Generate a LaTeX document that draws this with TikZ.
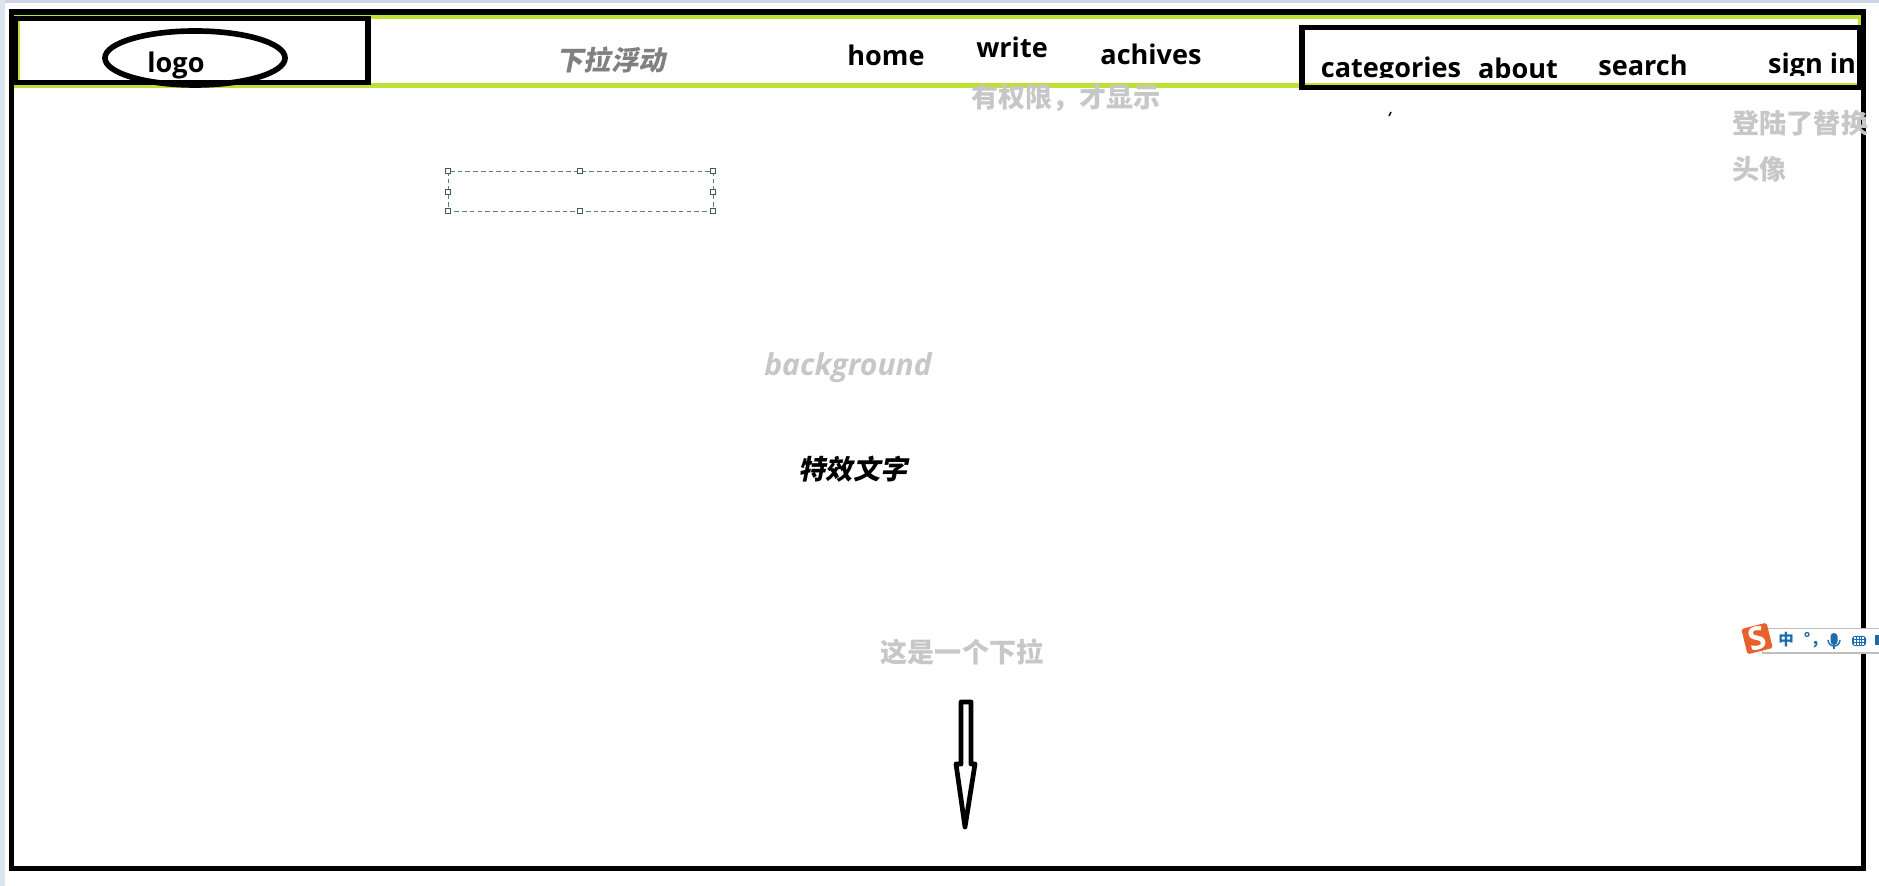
\documentclass[tikz,border=0pt]{standalone}
\usepackage{fontspec}
\setmainfont{Open Sans}
\newfontfamily\cjk{Noto Sans CJK SC}
\newfontfamily\cjkslant[FakeSlant=0.2]{Noto Sans CJK SC}
\usetikzlibrary{shapes.geometric}
\definecolor{barGreen}{HTML}{BDE034}
\definecolor{imeBlue}{HTML}{1A6BB0}
\definecolor{imeOrange}{HTML}{E8602C}
\definecolor{selGray}{HTML}{5F7F7F}
\definecolor{edgeTop}{HTML}{CDD5E5}
\definecolor{edgeLeft}{HTML}{DBE5F0}
\newcommand{\SelHandle}[2]{
\node[handle] (H#1) at (#2) {};
}
\begin{document}
\begin{tikzpicture}[x=0.01cm, y=-0.01cm,
frame/.style={draw=black, line width=1.5pt},
navbox/.style={draw=black, line width=1.6pt},
greenbar/.style={fill=barGreen, draw=none},
navitem/.style={inner sep=0, anchor=base, text=black, font=\fontsize{7.7}{9}\selectfont\bfseries},
note/.style={inner sep=0, text=black!22, font=\fontsize{7.7}{9}\selectfont\cjk\bfseries},
handle/.style={draw=selGray!70!black, fill=white, line width=.25pt, inner sep=0, minimum size=.05cm},
selection/.style={draw=selGray, dash pattern=on 1.3pt off .9pt, line width=.25pt},
imeicon/.style={inner sep=0, text=imeBlue, font=\fontsize{4.4}{5}\selectfont\cjk\bfseries},
]
\useasboundingbox (0,0) rectangle (1879,886);
%%%%%%%%%%%% EDGES OF THE SCREENSHOT %%%%%%%%%%%%
\fill[white] (0,0) rectangle (1879,886);
\fill[edgeTop] (0,0) rectangle (1879,3);
\fill[edgeLeft] (0,0) rectangle (5,886);

%%%%%%%%%%%% GREEN BAR %%%%%%%%%%%%
\fill[greenbar] (14,14) rectangle (1862,19);
\fill[greenbar] (14,83) rectangle (1862,88);
\fill[greenbar] (14,14) rectangle (20,88);
\fill[greenbar] (1858,14) rectangle (1862,88);

%%%%%%%%%%%% NAVIGATION %%%%%%%%%%%%
\node[navitem] (Logo) at (176,72.5) {logo};
\node[inner sep=0, text=black!50, font=\fontsize{7.7}{9}\selectfont\cjkslant\bfseries] (Float) at (611,60) {下拉浮动};
\node[navitem] (Home) at (886,66) {home};
\node[navitem] (Write) at (1012,58) {write};
\node[navitem] (Achives) at (1151,64.5) {achives};
\begin{scope}
\clip (1305,30) rectangle (1858,78);
\node[navitem] (Categories) at (1391,78) {categories};
\node[navitem] (About) at (1518,79) {about};
\node[navitem] (Search) at (1643,75.5) {search};
\node[navitem] (SignIn) at (1812,74) {sign in};
\end{scope}
\fill[white] (1305,78) rectangle (1858,83);
\fill[white] (1765,76) rectangle (1858,83);

%%%%%%%%%%%% BOXES %%%%%%%%%%%%
\node[navbox, fill=none, ellipse, inner sep=0, minimum width=1.8cm, minimum height=.54cm] (LogoOval) at (195,58) {};
\draw[navbox] (15,18.5) rectangle (368,82.5);
\draw[frame] (11.5,12) rectangle (1863.5,868.5);
\draw[navbox] (1302,27.5) rectangle (1860,87.5);

%%%%%%%%%%%% NOTES %%%%%%%%%%%%
\node[note] (Perm) at (1066,98) {有权限，才显示};
\node[note, anchor=west] (Login) at (1732,123) {登陆了替换};
\node[note, anchor=west] (Avatar) at (1732,169) {头像};
\node[inner sep=0, text=black!22, font=\fontsize{8.55}{10}\selectfont\bfseries\itshape] (Bg) at (848,368) {background};
\node[inner sep=0, text=black, font=\fontsize{7.7}{9}\selectfont\cjkslant\bfseries] (Effect) at (853,469) {特效文字};
\node[note] (Pull) at (962,652) {这是一个下拉};
\draw[line width=.4pt] (1389,116)--(1391,112);

%%%%%%%%%%%% SELECTION BOX %%%%%%%%%%%%
\draw[selection] (448,171) rectangle (713,211);
\SelHandle{NW}{448,171}
\SelHandle{N}{580,171}
\SelHandle{NE}{713,171}
\SelHandle{W}{448,192}
\SelHandle{E}{713,192}
\SelHandle{SW}{448,211}
\SelHandle{S}{580,211}
\SelHandle{SE}{713,211}

%%%%%%%%%%%% DOWN ARROW %%%%%%%%%%%%
\draw[line width=1.35pt, line join=round]
  (961,702)--(971,702)--(971,764)--(975,764)--(965,827)--(956,764)--(961,764)--cycle;

%%%%%%%%%%%% IME BAR %%%%%%%%%%%%
\draw[fill=white, draw=black!25, line width=.3pt] (1762,628.5) rectangle (1885,653);
\node[fill=imeOrange, rounded corners=.5pt, rotate=14, inner sep=0, minimum size=.26cm,
  text=white, font=\fontsize{9}{10}\selectfont\bfseries] (ImeLogo) at (1757,638.5) {S};
\node[imeicon] (ImeZh) at (1786,640) {中};
\node[imeicon] (ImeDot) at (1811,640) {°\,,};
\fill[imeBlue, rounded corners=1pt] (1830.5,633) rectangle (1837.5,645);
\draw[imeBlue, line width=.4pt] (1828,640) arc[start angle=180, end angle=360, x radius=6, y radius=-6];
\draw[imeBlue, line width=.4pt] (1834,646)--(1834,649);
\node[fill=imeBlue, rounded corners=.8pt, inner sep=0, minimum width=.14cm, minimum height=.10cm] (ImeKeys) at (1859,641) {};
\foreach \row in {638,641,644}
  \draw[white, line width=.3pt, dash pattern=on .5pt off .3pt] (1854,\row)--(1865,\row);
\fill[imeBlue] (1875,635) rectangle (1879,645);
\end{tikzpicture}
\end{document}
